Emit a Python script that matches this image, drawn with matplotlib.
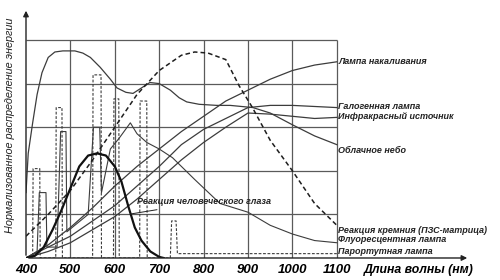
import matplotlib
matplotlib.use('Agg')
import matplotlib.pyplot as plt

plt.rcParams['font.family'] = ['Liberation Sans', 'DejaVu Sans']

# wavelength (nm) / normalized energy
wl_sky = [400, 405, 415, 425, 436, 450, 465, 483, 510, 528, 545, 567, 590, 605, 625, 641,
          660, 679, 700, 725, 745, 762, 790, 830, 860, 911, 950, 1001, 1050, 1100]
sky = [0.30, 0.48, 0.62, 0.75, 0.85, 0.92, 0.945, 0.95, 0.95, 0.94, 0.92, 0.875, 0.82, 0.78,
       0.76, 0.755, 0.78, 0.805, 0.80, 0.77, 0.735, 0.716, 0.705, 0.70, 0.70, 0.69, 0.665,
       0.61, 0.56, 0.52]

wl_lamp = [400, 450, 500, 550, 600, 650, 700, 750, 800, 850, 900, 950, 1000, 1050, 1100]
incandescent = [0.0, 0.06, 0.14, 0.23, 0.33, 0.42, 0.50, 0.58, 0.65, 0.72, 0.77, 0.82, 0.86, 0.885, 0.90]
halogen = [0.0, 0.05, 0.10, 0.17, 0.24, 0.33, 0.42, 0.52, 0.59, 0.64, 0.69, 0.70, 0.70, 0.695, 0.69]
infrared = [0.0, 0.03, 0.07, 0.13, 0.19, 0.27, 0.36, 0.45, 0.53, 0.60, 0.665, 0.66, 0.65, 0.64, 0.645]

wl_si = [400, 450, 500, 550, 600, 650, 700, 750, 780, 810, 850, 880, 910, 950, 1000, 1050, 1100]
silicon = [0.10, 0.20, 0.31, 0.45, 0.60, 0.75, 0.86, 0.93, 0.945, 0.94, 0.91, 0.79, 0.69, 0.54,
           0.40, 0.25, 0.15]

wl_eye = [400, 420, 440, 460, 480, 500, 520, 540, 560, 580, 600, 615, 630, 645, 660, 680, 700, 710]
eye = [0.0, 0.01, 0.05, 0.13, 0.22, 0.32, 0.42, 0.47, 0.48, 0.47, 0.42, 0.35, 0.24, 0.14, 0.08,
       0.03, 0.005, 0.0]

wl_fluo = [400, 425, 430, 445, 447, 470, 478, 490, 492, 540, 552, 566, 570, 590, 610, 635,
           650, 672, 700, 730, 780, 837, 900, 950, 1000, 1050, 1100]
fluorescent = [0.0, 0.03, 0.30, 0.30, 0.05, 0.05, 0.58, 0.58, 0.12, 0.20, 0.60, 0.60, 0.30,
               0.50, 0.55, 0.62, 0.57, 0.53, 0.50, 0.46, 0.36, 0.25, 0.21, 0.15, 0.11, 0.08, 0.07]

wl_hg = [400, 415, 416, 431, 432, 467, 468, 481, 482, 550, 551, 569, 570, 597, 598, 609, 610,
         656, 657, 672, 673, 725, 728, 738, 741, 1100]
mercury = [0.0, 0.0, 0.41, 0.41, 0.0, 0.0, 0.69, 0.69, 0.0, 0.0, 0.84, 0.84, 0.0, 0.0, 0.73,
           0.73, 0.0, 0.0, 0.72, 0.72, 0.0, 0.0, 0.17, 0.17, 0.02, 0.02]

ticks = [400, 500, 600, 700, 800, 900, 1000, 1100]
grid_y = [0.2, 0.4, 0.6, 0.8, 1.0]

labels = [("Лампа накаливания", 0.90), ("Галогенная лампа", 0.693),
          ("Инфракрасный источник", 0.647), ("Облачное небо", 0.495),
          ("Реакция кремния (ПЗС-матрица)", 0.128), ("Флуоресцентная лампа", 0.083),
          ("Парортутная лампа", 0.028)]

fig = plt.figure(figsize=(5, 2.8), dpi=100)
ax = fig.add_axes([0.052, 0.0786, 0.888, 0.893])
ax.set_xlim(400, 1400)
ax.set_ylim(0, 1.147)
for s in ax.spines.values():
    s.set_visible(False)

grid_c = '#5a5a5a'
ax.vlines(ticks[1:], 0, 1, color=grid_c, lw=0.9)
ax.hlines(grid_y, 400, 1100, color=grid_c, lw=0.9)

line_c = '#3c3c3c'
ax.plot(wl_sky, sky, color=line_c, lw=0.9)
ax.plot(wl_lamp, incandescent, color=line_c, lw=0.9)
ax.plot(wl_lamp, halogen, color=line_c, lw=0.9)
ax.plot(wl_lamp, infrared, color=line_c, lw=0.9)
ax.plot(wl_fluo, fluorescent, color=line_c, lw=0.8)
ax.plot(wl_hg, mercury, color=line_c, lw=0.8, ls=(0, (2.5, 1.5)))
ax.plot(wl_si, silicon, color='#1e1e1e', lw=1.1, ls=(0, (3, 2)))
ax.plot(wl_eye, eye, color='#111111', lw=1.6)

# axes with arrow heads
arrow = dict(arrowstyle='-|>', color='#222222', lw=1.0, mutation_scale=8)
ax.annotate('', xy=(400, 1.147), xytext=(400, 0), arrowprops=arrow, annotation_clip=False)
ax.annotate('', xy=(1400, 0), xytext=(400, 0), arrowprops=arrow, annotation_clip=False)

ax.set_yticks([])
ax.set_xticks(ticks)
ax.set_xticklabels([str(t) for t in ticks], fontstyle='italic', fontweight='bold', fontsize=9.5)
ax.tick_params(axis='x', length=0, pad=4)
ax.text(1160, -0.055, "Длина волны (нм)", fontstyle='italic', fontweight='bold', fontsize=8.8,
        ha='left', va='center')

for txt, yv in labels:
    ax.text(1103, yv, txt, fontstyle='italic', fontweight='bold', fontsize=6.5,
            ha='left', va='center', color='#222222')

ax.annotate("Реакция человеческого глаза", xy=(630, 0.2), xytext=(651, 0.257),
            fontstyle='italic', fontweight='bold', fontsize=6.5, ha='left', va='center',
            color='#222222', arrowprops=dict(arrowstyle='-', color='#222222', lw=0.7))

fig.text(0.02, 0.553, "Нормализованное распределение энергии", rotation=90,
         fontstyle='italic', fontsize=7.8, ha='center', va='center', color='#222222')

fig.savefig('out.png', dpi=100)
